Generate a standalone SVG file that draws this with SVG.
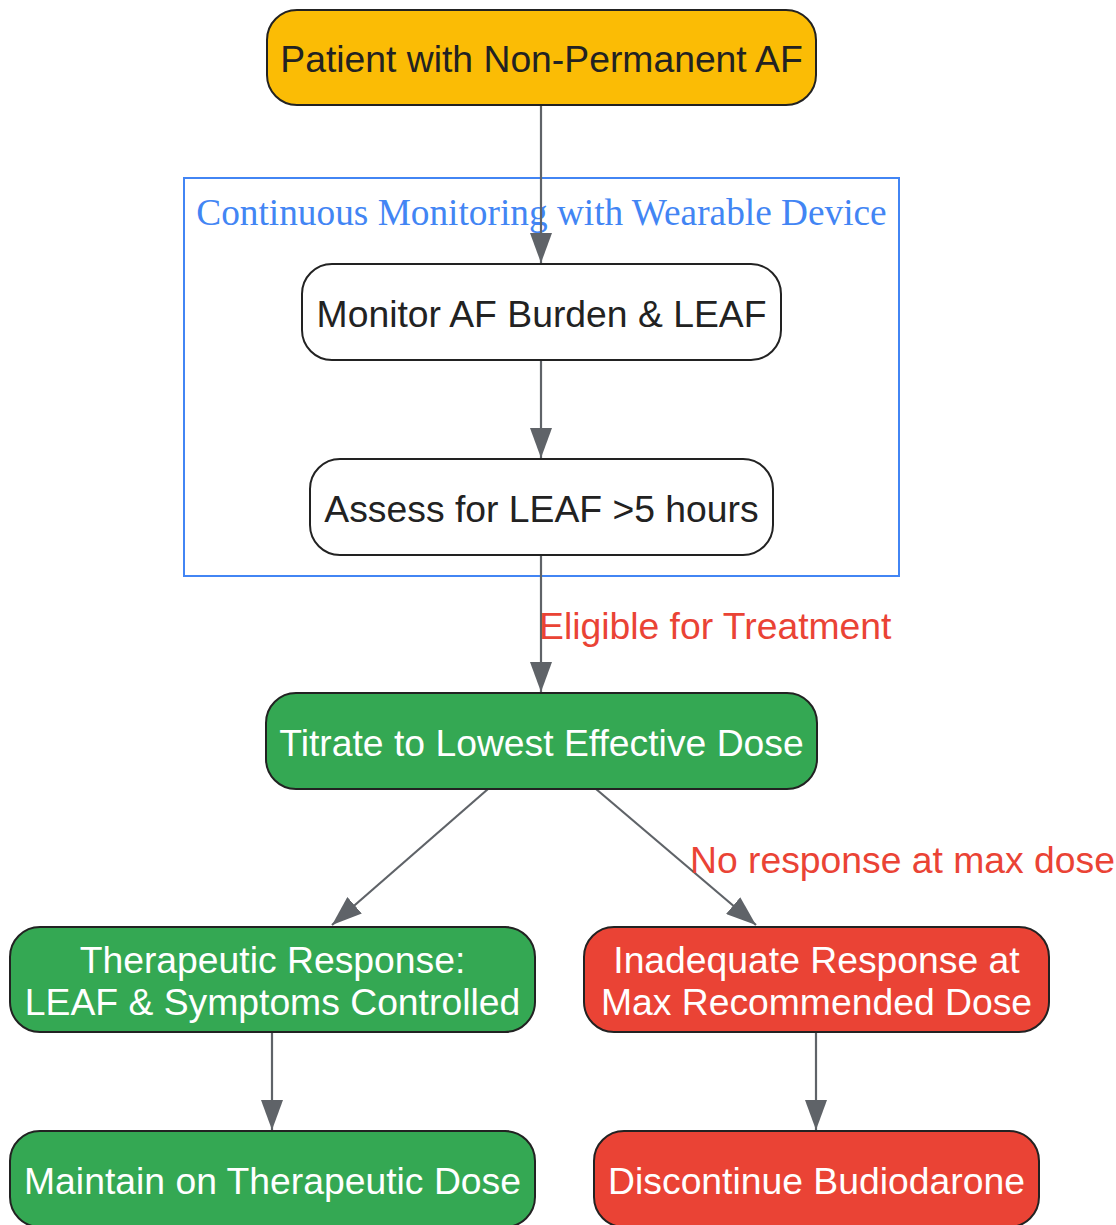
<svg xmlns="http://www.w3.org/2000/svg" width="1116" height="1225" viewBox="0 0 1116 1225">
<defs>
<marker id="arr" viewBox="0 0 30 22" refX="30" refY="11" markerWidth="30" markerHeight="22" markerUnits="userSpaceOnUse" orient="auto">
<path d="M0,0 L30,11 L0,22 z" fill="#5F6368"/>
</marker>
<style>
.node rect{stroke:#222222;stroke-width:2}
.t{font-family:"Liberation Sans",Arial,sans-serif;font-size:37.3px;text-anchor:middle}
.dark{fill:#222222}
.light{fill:#FFFFFF}
.edge{stroke:#5F6368;stroke-width:2.2;fill:none;marker-end:url(#arr)}
.elabel{font-family:"Liberation Sans",Arial,sans-serif;font-size:37.3px;fill:#EA4335}
</style>
</defs>
<rect width="1116" height="1225" fill="#FFFFFF"/>
<g id="cluster">
<rect x="184" y="178" width="715" height="398" fill="none" stroke="#4285F4" stroke-width="2"/>
<text x="541.5" y="225" font-family="'Liberation Serif','Times New Roman',serif" font-size="37.3" fill="#4285F4" text-anchor="middle">Continuous Monitoring with Wearable Device</text>
</g>
<g id="connectors">
<line class="edge" x1="541" y1="105" x2="541" y2="263"/>
<line class="edge" x1="541" y1="360" x2="541" y2="458"/>
<line class="edge" x1="541" y1="555" x2="541" y2="692"/>
<text class="elabel" x="539" y="639">Eligible for Treatment</text>
<line class="edge" x1="488" y1="789" x2="332" y2="925"/>
<line class="edge" x1="596" y1="789" x2="756" y2="925"/>
<text class="elabel" x="690" y="873">No response at max dose</text>
<line class="edge" x1="272" y1="1032" x2="272" y2="1130"/>
<line class="edge" x1="816" y1="1032" x2="816" y2="1130"/>
</g>
<g id="patient" class="node">
<rect x="267" y="10" width="549" height="95" rx="30" fill="#FBBC05"/>
<text class="t dark" x="541.5" y="72">Patient with Non-Permanent AF</text>
</g>
<g id="monitor" class="node">
<rect x="302" y="264" width="479" height="96" rx="30" fill="#FFFFFF"/>
<text class="t dark" x="541.5" y="327">Monitor AF Burden &amp; LEAF</text>
</g>
<g id="assess" class="node">
<rect x="310" y="459" width="463" height="96" rx="30" fill="#FFFFFF"/>
<text class="t dark" x="541.5" y="522">Assess for LEAF &gt;5 hours</text>
</g>
<g id="titrate" class="node">
<rect x="266" y="693" width="551" height="96" rx="30" fill="#34A853"/>
<text class="t light" x="541.5" y="756">Titrate to Lowest Effective Dose</text>
</g>
<g id="therapeutic" class="node">
<rect x="10" y="927" width="525" height="105" rx="30" fill="#34A853"/>
<text class="t light" x="272.5" y="973">Therapeutic Response:</text>
<text class="t light" x="272.5" y="1015">LEAF &amp; Symptoms Controlled</text>
</g>
<g id="inadequate" class="node">
<rect x="584" y="927" width="465" height="105" rx="30" fill="#EA4335"/>
<text class="t light" x="816.5" y="973">Inadequate Response at</text>
<text class="t light" x="816.5" y="1015">Max Recommended Dose</text>
</g>
<g id="maintain" class="node">
<rect x="10" y="1131" width="525" height="96" rx="30" fill="#34A853"/>
<text class="t light" x="272.5" y="1194">Maintain on Therapeutic Dose</text>
</g>
<g id="discontinue" class="node">
<rect x="594" y="1131" width="445" height="96" rx="30" fill="#EA4335"/>
<text class="t light" x="816.5" y="1194">Discontinue Budiodarone</text>
</g>
</svg>
